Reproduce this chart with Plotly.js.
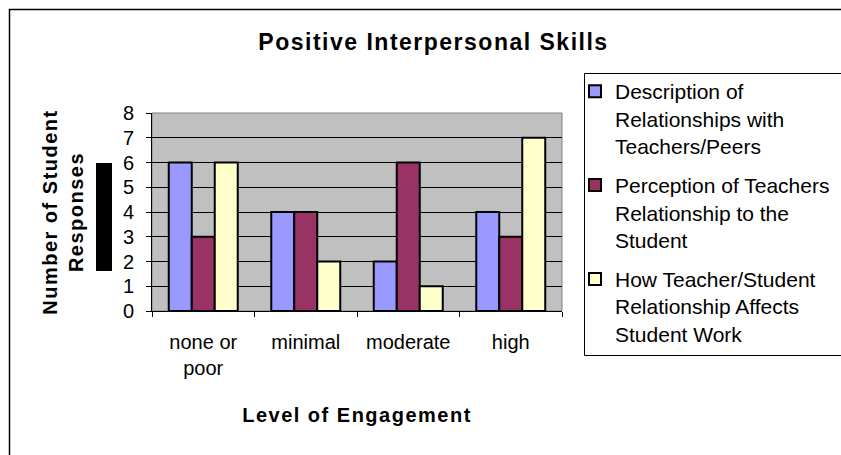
<!DOCTYPE html>
<html>
<head>
<meta charset="utf-8">
<script src="https://cdn.plot.ly/plotly-3.0.1.min.js"></script>
<style>
  html, body { margin: 0; padding: 0; background: #fff; overflow: hidden; }
  #chart { width: 841px; height: 455px; overflow: hidden; }
  .gtitle, .xtitle, .ytitle { letter-spacing: 1.5px; }
</style>
</head>
<body>
<div id="chart"></div>
<script>
const categories = ["none or<br>poor", "minimal", "moderate", "high"];
const seriesNames = [
  "Description of<br>Relationships with<br>Teachers/Peers",
  "Perception of Teachers<br>Relationship to the<br>Student",
  "How Teacher/Student<br>Relationship Affects<br>Student Work"
];
const descriptionValues = [6, 4, 2, 4];
const perceptionValues = [3, 4, 6, 3];
const affectsValues = [6, 2, 1, 7];
const yTicks = [0, 1, 2, 3, 4, 5, 6, 7, 8];

const colors = ["#9999FF", "#993366", "#FFFFCC"];
const FONT = "'Liberation Sans', Arial, sans-serif";

const seriesValues = [descriptionValues, perceptionValues, affectsValues];
const traces = seriesValues.map((vals, i) => ({
  type: "bar",
  x: categories,
  y: vals,
  name: seriesNames[i],
  legendgroup: "g" + i,
  marker: { color: colors[i], line: { color: "#000000", width: 2 } },
  hoverinfo: "y"
}));

// pixel helpers for decorative shapes (plot area: x 152..562, y 113..311)
const L = 152, R = 562, T = 113, B = 311;
const px = v => (v - L) / (R - L);
const py = v => (B - v) / (B - T);
const pathPx = pts => pts.map((p, i) => (i ? "L" : "M") + px(p[0]) + "," + py(p[1])).join(" ");

const layout = {
  width: 841,
  height: 455,
  margin: { l: L, r: 841 - R, t: T, b: 455 - B, pad: 0, autoexpand: false },
  paper_bgcolor: "#FFFFFF",
  plot_bgcolor: "#C0C0C0",
  font: { family: FONT, size: 20, color: "#000000" },
  barmode: "group",
  bargap: 0.327,
  bargroupgap: 0,
  title: {
    text: "Positive Interpersonal Skills",
    font: { family: FONT, size: 23, color: "#000000", weight: "bold" },
    x: 433.5 / 841, xref: "container", xanchor: "center",
    y: 1 - 42 / 455, yref: "container", yanchor: "middle"
  },
  xaxis: {
    type: "category",
    range: [-0.5, 3.5],
    showgrid: false,
    showline: true, linecolor: "#000000", linewidth: 1,
    ticks: "outside", tickson: "boundaries", ticklen: 5, tickcolor: "#000000", tickwidth: 1,
    tickfont: { family: FONT, size: 20, color: "#000000" },
    ticklabelstandoff: 13,
    title: {
      text: "Level of Engagement",
      font: { family: FONT, size: 20, color: "#000000", weight: "bold" },
      standoff: 29
    },
    automargin: false,
    fixedrange: true
  },
  yaxis: {
    range: [0, 8],
    tickmode: "array",
    tickvals: yTicks,
    ticktext: yTicks.map(String),
    showgrid: true, gridcolor: "#000000", gridwidth: 1,
    zeroline: false,
    showline: true, linecolor: "#000000", linewidth: 1,
    ticks: "outside", ticklen: 5, tickcolor: "#000000", tickwidth: 1,
    tickfont: { family: FONT, size: 20, color: "#000000" },
    ticklabelstandoff: 8,
    title: {
      text: "Number of Student<br>Responses",
      font: { family: FONT, size: 20, color: "#000000", weight: "bold" },
      standoff: 33
    },
    automargin: false,
    fixedrange: true
  },
  showlegend: true,
  legend: {
    x: px(575), xanchor: "left",
    y: py(71), yanchor: "top",
    bgcolor: "rgba(0,0,0,0)",
    borderwidth: 0,
    font: { family: FONT, size: 21, color: "#000000" },
    valign: "top",
    itemwidth: 30,
    tracegroupgap: 9,
    traceorder: "grouped",
    maxheight: 400
  },
  shapes: [
    // plot area border (gray)
    { type: "rect", xref: "paper", yref: "paper", x0: 0, x1: 1, y0: 0, y1: 1,
      line: { color: "#808080", width: 1 }, layer: "below" },
    // legend frame (right side runs off the picture)
    { type: "path", xref: "paper", yref: "paper",
      path: pathPx([[841, 73.5], [584.5, 73.5], [584.5, 355.5], [841, 355.5]]),
      line: { color: "#000000", width: 1 } },
    // outer chart frame: only top and left edges are inside the picture
    { type: "path", xref: "paper", yref: "paper",
      path: pathPx([[841, 9.5], [9.5, 9.5], [9.5, 455]]),
      line: { color: "#000000", width: 1.5 } },
    // black box beside y title
    { type: "rect", xref: "paper", yref: "paper",
      x0: px(96), x1: px(112), y0: py(271), y1: py(163),
      fillcolor: "#000000", line: { width: 0 } }
  ]
};

Plotly.newPlot("chart", traces, layout, { staticPlot: true, displayModeBar: false });
</script>
</body>
</html>
